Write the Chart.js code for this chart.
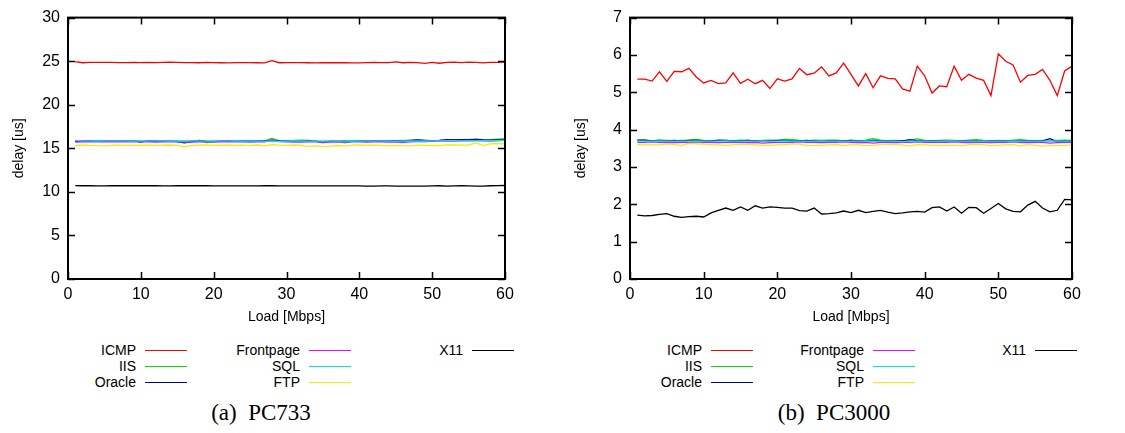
<!DOCTYPE html>
<html lang="en">
<head>
    <meta charset="UTF-8">
    <title>Delay vs Load</title>
    <script src="https://cdn.jsdelivr.net/npm/chart.js"></script>
    <style>
        body { margin: 0; background: #fff; width: 1125px; height: 433px; position: relative; overflow: hidden; }
        .chart-box { position: absolute; top: 0; height: 340px; }
        .legend-item { position: absolute; font: 14px "Liberation Sans", Arial, sans-serif; color: #000; height: 16px; line-height: 16px; }
        .legend-item .lbl { position: absolute; right: 0; white-space: nowrap; }
        .legend-line { position: absolute; height: 0; border-top: 1.5px solid; }
        .caption { position: absolute; top: 400px; font: 23px "Liberation Serif", "DejaVu Serif", serif; color: #000; transform: translateX(-50%); white-space: nowrap; }
    </style>
</head>
<body>
    <div class="chart-box" style="left:0; width:562px;"><canvas id="chartA" width="562" height="340"></canvas></div>
    <div class="chart-box" style="left:562px; width:563px;"><canvas id="chartB" width="563" height="340"></canvas></div>
    <div id="legends"></div>
    <div class="caption" style="left:261px;">(a)&nbsp; PC733</div>
    <div class="caption" style="left:834px;">(b)&nbsp; PC3000</div>

    <script>
        // Load values 1..60 Mbps
        const loads = [1,2,3,4,5,6,7,8,9,10,11,12,13,14,15,16,17,18,19,20,
                       21,22,23,24,25,26,27,28,29,30,31,32,33,34,35,36,37,38,39,40,
                       41,42,43,44,45,46,47,48,49,50,51,52,53,54,55,56,57,58,59,60];

        const seriesNames = ['ICMP', 'IIS', 'Oracle', 'Frontpage', 'SQL', 'FTP', 'X11'];
        const seriesColors = ['#ff0000', '#00e000', '#0000a0', '#ff00ff', '#00e8e8', '#f0f000', '#000000'];

        // (a) PC733
        const icmpA = [24.95,24.82,24.85,24.85,24.86,24.85,24.84,24.84,24.85,24.84,24.86,24.83,24.85,24.88,24.87,24.84,24.83,24.82,24.86,24.84,
                       24.82,24.80,24.83,24.84,24.83,24.82,24.81,25.05,24.82,24.83,24.84,24.83,24.82,24.81,24.82,24.82,24.83,24.82,24.81,24.80,
                       24.84,24.86,24.83,24.84,24.92,24.82,24.85,24.84,24.75,24.86,24.76,24.87,24.88,24.84,24.90,24.85,24.80,24.86,24.87,24.90];
        const iisA = [15.88,15.84,15.85,15.86,15.84,15.85,15.87,15.86,15.88,15.83,15.85,15.84,15.86,15.85,15.82,15.80,15.84,15.86,15.65,15.72,
                      15.80,15.84,15.83,15.85,15.82,15.84,15.86,16.12,15.88,15.86,15.92,15.94,15.90,15.85,15.62,15.80,15.82,15.62,15.80,15.84,
                      15.86,15.85,15.83,15.86,15.88,15.90,15.92,15.94,15.90,15.88,15.90,15.94,15.98,16.00,16.02,16.04,15.98,16.00,16.05,16.10];
        const oracleA = [15.80,15.84,15.86,15.83,15.82,15.84,15.85,15.85,15.86,15.70,15.88,15.84,15.83,15.82,15.78,15.62,15.76,15.92,15.82,15.80,
                         15.84,15.84,15.83,15.82,15.84,15.84,15.84,15.92,15.84,15.82,15.80,15.82,15.84,15.83,15.72,15.82,15.80,15.84,15.83,15.84,
                         15.86,15.85,15.84,15.88,15.86,15.84,15.92,15.95,15.92,15.88,15.90,16.00,15.96,15.98,15.97,16.02,15.96,15.94,15.95,15.96];
        const frontpageA = [15.72,15.75,15.74,15.73,15.74,15.75,15.76,15.74,15.73,15.74,15.75,15.72,15.74,15.75,15.73,15.70,15.72,15.74,15.73,15.74,
                            15.75,15.74,15.73,15.74,15.72,15.74,15.75,15.95,15.76,15.74,15.72,15.70,15.73,15.74,15.68,15.72,15.74,15.70,15.73,15.74,
                            15.72,15.73,15.74,15.72,15.70,15.68,15.74,15.76,15.78,15.80,15.82,15.85,15.84,15.86,15.88,15.90,15.86,15.84,15.88,15.90];
        const sqlA = [15.90,15.86,15.85,15.84,15.85,15.86,15.86,15.85,15.84,15.86,15.85,15.86,15.85,15.84,15.86,15.84,15.85,15.86,15.85,15.84,
                      15.86,15.85,15.84,15.83,15.85,15.84,15.82,15.78,15.80,15.82,15.84,15.85,15.83,15.84,15.86,15.84,15.83,15.84,15.85,15.84,
                      15.85,15.86,15.85,15.84,15.83,15.85,15.84,15.86,15.84,15.85,15.86,15.88,15.87,15.86,15.85,15.86,15.88,15.87,15.88,15.90];
        const ftpA = [15.32,15.35,15.34,15.30,15.28,15.34,15.36,15.33,15.34,15.32,15.35,15.34,15.35,15.38,15.34,15.18,15.30,15.36,15.38,15.34,
                      15.35,15.36,15.34,15.36,15.30,15.38,15.28,15.42,15.36,15.34,15.38,15.32,15.22,15.28,15.20,15.26,15.32,15.24,15.36,15.38,
                      15.34,15.36,15.32,15.30,15.34,15.30,15.28,15.36,15.34,15.32,15.30,15.38,15.40,15.36,15.38,15.62,15.30,15.52,15.54,15.52];
        const x11A = [10.72,10.70,10.70,10.69,10.68,10.70,10.71,10.70,10.70,10.71,10.70,10.70,10.69,10.69,10.70,10.70,10.70,10.70,10.70,10.69,
                      10.69,10.68,10.68,10.69,10.69,10.69,10.70,10.71,10.69,10.68,10.69,10.69,10.69,10.69,10.68,10.68,10.68,10.68,10.69,10.68,
                      10.66,10.67,10.68,10.68,10.67,10.66,10.66,10.66,10.67,10.69,10.70,10.65,10.68,10.70,10.69,10.66,10.67,10.70,10.72,10.73];

        // (b) PC3000
        const icmpB = [5.35,5.35,5.30,5.55,5.29,5.56,5.55,5.64,5.41,5.25,5.32,5.23,5.25,5.52,5.24,5.35,5.23,5.32,5.10,5.36,
                       5.30,5.36,5.64,5.47,5.51,5.68,5.44,5.52,5.78,5.48,5.17,5.50,5.12,5.44,5.37,5.36,5.09,5.03,5.70,5.44,
                       4.98,5.17,5.15,5.70,5.32,5.48,5.38,5.32,4.91,6.03,5.83,5.73,5.27,5.45,5.48,5.61,5.32,4.91,5.57,5.70];
        const iisB = [3.71,3.72,3.70,3.72,3.71,3.70,3.71,3.72,3.74,3.71,3.70,3.72,3.71,3.70,3.72,3.71,3.70,3.71,3.72,3.71,
                      3.74,3.73,3.71,3.70,3.72,3.71,3.72,3.72,3.70,3.71,3.70,3.72,3.76,3.72,3.70,3.71,3.70,3.71,3.75,3.71,
                      3.70,3.71,3.72,3.71,3.70,3.72,3.73,3.71,3.70,3.71,3.70,3.72,3.73,3.71,3.70,3.71,3.70,3.71,3.72,3.71];
        const oracleB = [3.72,3.72,3.70,3.71,3.70,3.71,3.70,3.71,3.71,3.70,3.70,3.71,3.71,3.70,3.70,3.71,3.70,3.70,3.70,3.71,
                         3.71,3.70,3.70,3.71,3.70,3.70,3.70,3.70,3.70,3.71,3.70,3.70,3.71,3.70,3.70,3.70,3.70,3.73,3.70,3.70,
                         3.70,3.70,3.70,3.70,3.70,3.70,3.70,3.70,3.70,3.70,3.70,3.70,3.70,3.70,3.70,3.70,3.76,3.68,3.69,3.70];
        const frontpageB = [3.66,3.66,3.67,3.66,3.66,3.65,3.66,3.66,3.67,3.66,3.66,3.65,3.66,3.66,3.66,3.65,3.66,3.64,3.65,3.66,
                            3.66,3.66,3.67,3.66,3.66,3.65,3.66,3.66,3.67,3.66,3.65,3.66,3.64,3.66,3.66,3.65,3.66,3.66,3.67,3.66,
                            3.66,3.66,3.66,3.67,3.66,3.65,3.66,3.66,3.65,3.66,3.66,3.67,3.66,3.65,3.66,3.66,3.64,3.65,3.66,3.66];
        const sqlB = [3.69,3.69,3.69,3.70,3.69,3.69,3.69,3.69,3.70,3.69,3.69,3.69,3.70,3.69,3.69,3.69,3.69,3.70,3.69,3.69,
                      3.70,3.69,3.69,3.69,3.69,3.70,3.69,3.69,3.69,3.69,3.69,3.70,3.69,3.69,3.69,3.69,3.68,3.69,3.69,3.69,
                      3.69,3.69,3.70,3.70,3.69,3.69,3.69,3.70,3.69,3.69,3.69,3.70,3.69,3.69,3.69,3.69,3.70,3.69,3.69,3.70];
        const ftpB = [3.60,3.59,3.59,3.59,3.62,3.60,3.58,3.63,3.62,3.61,3.60,3.59,3.58,3.59,3.61,3.60,3.59,3.58,3.58,3.59,
                      3.60,3.61,3.61,3.58,3.57,3.58,3.59,3.60,3.57,3.59,3.59,3.57,3.58,3.60,3.61,3.60,3.59,3.56,3.60,3.59,
                      3.58,3.58,3.58,3.58,3.57,3.59,3.61,3.59,3.57,3.58,3.59,3.60,3.56,3.60,3.58,3.56,3.58,3.57,3.58,3.59];
        const x11B = [1.71,1.69,1.70,1.73,1.75,1.68,1.65,1.67,1.68,1.66,1.77,1.84,1.90,1.84,1.93,1.84,1.96,1.90,1.93,1.92,
                      1.90,1.90,1.83,1.82,1.90,1.74,1.75,1.77,1.82,1.78,1.84,1.78,1.81,1.84,1.79,1.75,1.77,1.80,1.81,1.79,
                      1.91,1.93,1.82,1.93,1.76,1.92,1.91,1.76,1.89,2.02,1.88,1.81,1.80,1.98,2.08,1.90,1.80,1.84,2.13,2.12];

        const FONT = '"Liberation Sans", Arial, sans-serif';

        // gnuplot-style frame with inward ticks on all four sides
        const frameTicks = {
            id: 'frameTicks',
            afterDatasetsDraw(chart) {
                const { ctx, chartArea: a, scales } = chart;
                const len = 7;
                ctx.save();
                ctx.strokeStyle = '#000';
                ctx.lineWidth = 1.5;
                ctx.beginPath();
                scales.x.ticks.forEach(t => {
                    const px = Math.round(scales.x.getPixelForValue(t.value)) + 0.5;
                    ctx.moveTo(px, a.bottom); ctx.lineTo(px, a.bottom - len);
                    ctx.moveTo(px, a.top); ctx.lineTo(px, a.top + len);
                });
                scales.y.ticks.forEach(t => {
                    const py = Math.round(scales.y.getPixelForValue(t.value)) + 0.5;
                    ctx.moveTo(a.left, py); ctx.lineTo(a.left + len, py);
                    ctx.moveTo(a.right, py); ctx.lineTo(a.right - len, py);
                });
                ctx.stroke();
                ctx.lineWidth = 2;
                ctx.strokeRect(a.left, a.top, a.right - a.left, a.bottom - a.top);
                ctx.restore();
            }
        };

        function makeChart(id, seriesData, yMax, yStep, padRight) {
            const datasets = seriesData.map((vals, i) => ({
                label: seriesNames[i],
                data: loads.map((x, j) => ({ x: x, y: vals[j] })),
                borderColor: seriesColors[i],
                borderWidth: 1.3,
                pointRadius: 0,
                tension: 0,
                fill: false,
                order: seriesNames.length - i   // draw in gnuplot order, X11 last
            }));

            return new Chart(document.getElementById(id), {
                type: 'line',
                data: { datasets: datasets },
                options: {
                    responsive: false,
                    animation: false,
                    layout: { padding: { top: 13, right: padRight, bottom: 0, left: 0 } },
                    plugins: { legend: { display: false }, tooltip: { enabled: false } },
                    scales: {
                        x: {
                            type: 'linear', min: 0, max: 60,
                            ticks: { stepSize: 10, color: '#000', padding: 6, font: { family: FONT, size: 16 } },
                            grid: { display: false, drawTicks: false },
                            border: { display: false },
                            title: { display: true, text: 'Load [Mbps]', color: '#000',
                                     font: { family: FONT, size: 14 }, padding: { top: 0, bottom: 14 } },
                            afterFit: s => { s.height = 61; }
                        },
                        y: {
                            min: 0, max: yMax,
                            ticks: { stepSize: yStep, color: '#000', padding: 8, font: { family: FONT, size: 16 } },
                            grid: { display: false, drawTicks: false },
                            border: { display: false },
                            title: { display: true, text: 'delay [us]', color: '#000',
                                     font: { family: FONT, size: 14 }, padding: { top: 11, bottom: 0 } },
                            afterFit: s => { s.width = 68; }
                        }
                    }
                },
                plugins: [frameTicks]
            });
        }

        makeChart('chartA', [icmpA, iisA, oracleA, frontpageA, sqlA, ftpA, x11A], 30, 5, 57);
        makeChart('chartB', [icmpB, iisB, oracleB, frontpageB, sqlB, ftpB, x11B], 7, 1, 53);

        // Legends below each plot: three columns (3, 3, 1 entries)
        function buildLegend(colEnds, lineLen) {
            const holder = document.getElementById('legends');
            const rowsY = [342, 358, 374];
            seriesNames.forEach((name, i) => {
                const col = Math.floor(i / 3);
                const row = i % 3;
                const item = document.createElement('div');
                item.className = 'legend-item';
                item.style.left = (colEnds[col] - 120) + 'px';
                item.style.width = '120px';
                item.style.top = rowsY[row] + 'px';
                item.innerHTML = '<span class="lbl">' + name + '</span>';
                holder.appendChild(item);

                const line = document.createElement('div');
                line.className = 'legend-line';
                line.style.left = (colEnds[col] + 9) + 'px';
                line.style.width = lineLen + 'px';
                line.style.top = (rowsY[row] + 8) + 'px';
                line.style.borderTopColor = seriesColors[i];
                holder.appendChild(line);
            });
        }

        buildLegend([136, 300, 463], 42);
        buildLegend([702, 864, 1026], 42);
    </script>
</body>
</html>
